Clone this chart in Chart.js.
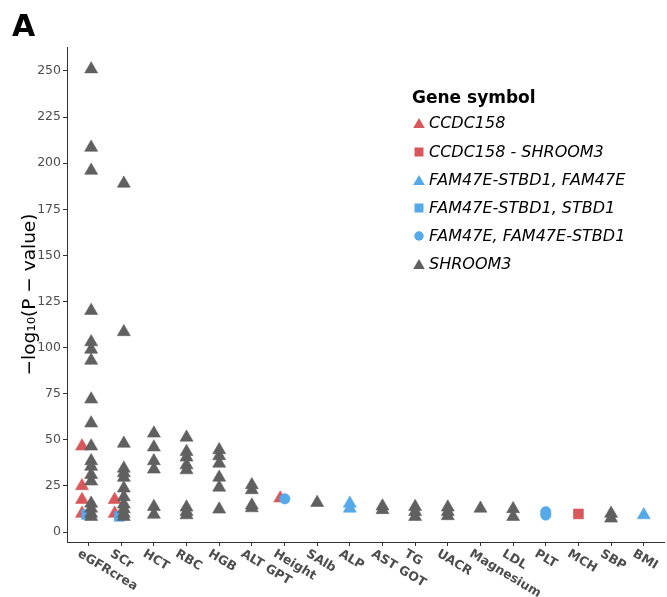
<!DOCTYPE html>
<html>
<head>
<meta charset="utf-8">
<script src="https://cdn.jsdelivr.net/npm/chart.js@4.4.1/dist/chart.umd.min.js"></script>
<style>
html,body{margin:0;padding:0;background:#fff;}
#wrap{position:relative;width:667px;height:597px;font-family:'DejaVu Sans',sans-serif;overflow:hidden;}
#c{position:absolute;left:0;top:0;}
#panel{position:absolute;left:12px;top:8px;font-weight:bold;font-size:30px;color:#000;line-height:36px;}
#legend{position:absolute;left:412px;top:85px;width:250px;height:200px;}
#legend .lt{position:absolute;left:0;top:0;font-weight:bold;font-size:17px;color:#000;line-height:24px;white-space:nowrap;}
#legend .li{position:absolute;left:0;height:20px;line-height:20px;font-style:italic;font-size:16px;color:#000;white-space:nowrap;}
#legend .li svg{position:absolute;left:0;top:3px;}
#legend .li span{position:absolute;left:17px;top:0;}
</style>
</head>
<body>
<div id="wrap">
<canvas id="c" width="667" height="597"></canvas>
<div id="panel">A</div>
<div id="legend"></div>
</div>
<script>
// ---------- data ----------
const categories = ['eGFRcrea','SCr','HCT','RBC','HGB','ALT GPT','Height','SAlb','ALP','AST GOT','TG','UACR','Magnesium','LDL','PLT','MCH','SBP','BMI'];
const yTicks = [0,25,50,75,100,125,150,175,200,225,250];

const seriesNames = ['CCDC158','CCDC158 - SHROOM3','FAM47E-STBD1, FAM47E','FAM47E-STBD1, STBD1','FAM47E, FAM47E-STBD1','SHROOM3'];

const ccdc158Cats = ['eGFRcrea','eGFRcrea','eGFRcrea','eGFRcrea','SCr','SCr','Height'];
const ccdc158Vals = [46.5, 25, 17.5, 10, 17.5, 10, 18.3];

const ccdc158Shroom3Cats = ['MCH'];
const ccdc158Shroom3Vals = [9.8];

const fam47eStbd1Fam47eCats = ['ALP','ALP','BMI'];
const fam47eStbd1Fam47eVals = [15.5, 12.8, 9.2];

const fam47eStbd1Stbd1Cats = ['eGFRcrea','SCr'];
const fam47eStbd1Stbd1Vals = [9.5, 8.5];

const fam47eFam47eStbd1Cats = ['Height','PLT','PLT'];
const fam47eFam47eStbd1Vals = [18, 11, 9.2];

const shroom3Cats = [
  'eGFRcrea','eGFRcrea','eGFRcrea','eGFRcrea','eGFRcrea','eGFRcrea','eGFRcrea','eGFRcrea','eGFRcrea',
  'eGFRcrea','eGFRcrea','eGFRcrea','eGFRcrea','eGFRcrea','eGFRcrea','eGFRcrea','eGFRcrea','eGFRcrea',
  'SCr','SCr','SCr','SCr','SCr','SCr','SCr','SCr','SCr','SCr','SCr','SCr',
  'HCT','HCT','HCT','HCT','HCT','HCT',
  'RBC','RBC','RBC','RBC','RBC','RBC','RBC','RBC',
  'HGB','HGB','HGB','HGB','HGB','HGB',
  'ALT GPT','ALT GPT','ALT GPT','ALT GPT',
  'SAlb',
  'AST GOT','AST GOT',
  'TG','TG','TG',
  'UACR','UACR','UACR',
  'Magnesium',
  'LDL','LDL',
  'SBP','SBP'
];
const shroom3Vals = [
  251, 208.5, 196, 120, 103, 99, 93, 72, 59,
  46.5, 38.5, 35.5, 31, 27.5, 15.5, 12.8, 10, 8.3,
  189, 108.5, 48, 34.5, 32, 29.5, 23.7, 19, 15, 12.5, 10, 8.3,
  53.5, 46, 38.5, 34, 13.7, 9.5,
  51.3, 43.5, 40.5, 36.3, 33.6, 13.4, 11, 9.2,
  44.5, 41.2, 37.2, 29.6, 24.2, 12.3,
  25.5, 22.8, 14.5, 13,
  15.9,
  14, 12,
  13.7, 11, 8.3,
  13.4, 11, 8.7,
  12.8,
  12.5, 8.3,
  10, 7.4
];

// ---------- styles ----------
const RED = '#D9585C', BLUE = '#56A9E9', GREY = '#606060';
const seriesStyle = [
  {color: RED,  shape: 'triangle'},
  {color: RED,  shape: 'rect'},
  {color: BLUE, shape: 'triangle'},
  {color: BLUE, shape: 'rect'},
  {color: BLUE, shape: 'circle'},
  {color: GREY, shape: 'triangle'}
];
const seriesCats = [ccdc158Cats, ccdc158Shroom3Cats, fam47eStbd1Fam47eCats, fam47eStbd1Stbd1Cats, fam47eFam47eStbd1Cats, shroom3Cats];
const seriesVals = [ccdc158Vals, ccdc158Shroom3Vals, fam47eStbd1Fam47eVals, fam47eStbd1Stbd1Vals, fam47eFam47eStbd1Vals, shroom3Vals];

// dodge groups that share a category
const present = categories.map(c => seriesCats.map((cs, s) => cs.includes(c) ? s : -1).filter(s => s >= 0));
function dodge(catIdx, s) {
  const g = present[catIdx];
  const n = g.length;
  if (n <= 1) return 0;
  const i = g.indexOf(s);
  return -0.06 + (i - (n - 1) / 2) * 0.14;
}

const datasets = seriesNames.map((name, s) => {
  const st = seriesStyle[s];
  const radius = st.shape === 'triangle' ? 7.5 : (st.shape === 'rect' ? 7 : 5.2);
  return {
    label: name,
    data: seriesCats[s].map((c, k) => {
      const ci = categories.indexOf(c);
      return {x: ci + dodge(ci, s), y: seriesVals[s][k]};
    }),
    pointStyle: st.shape,
    pointRadius: radius,
    pointHoverRadius: radius,
    backgroundColor: st.color,
    borderColor: st.color,
    borderWidth: 0.6,
    order: seriesNames.length - s
  };
});

const xLabelPlugin = {
  id: 'xLabels',
  afterDraw(chart) {
    const ctx = chart.ctx;
    const xs = chart.scales.x;
    ctx.save();
    ctx.font = 'bold 12.5px "DejaVu Sans"';
    ctx.fillStyle = '#4D4D4D';
    ctx.textAlign = 'left';
    ctx.textBaseline = 'middle';
    categories.forEach((c, i) => {
      const px = xs.getPixelForValue(i);
      ctx.save();
      ctx.translate(px - 10, 553);
      ctx.rotate(31 * Math.PI / 180);
      ctx.fillText(c, 0, 0);
      ctx.restore();
    });
    ctx.restore();
  }
};

new Chart(document.getElementById('c'), {
  type: 'scatter',
  data: {datasets},
  plugins: [xLabelPlugin],
  options: {
    responsive: false,
    animation: false,
    events: [],
    layout: {autoPadding: false, padding: {left: 0, right: 3, top: 47, bottom: 0}},
    plugins: {legend: {display: false}, tooltip: {enabled: false}},
    scales: {
      x: {
        type: 'linear',
        min: -0.66, max: 17.62,
        afterBuildTicks(scale) { scale.ticks = categories.map((c, i) => ({value: i})); },
        afterFit(scale) { scale.height = 55; },
        ticks: {display: false, stepSize: 1, includeBounds: false},
        grid: {drawOnChartArea: false, drawTicks: true, tickLength: 4, color: '#333333', lineWidth: 1},
        border: {display: true, color: '#333333', width: 1}
      },
      y: {
        type: 'linear',
        min: -5.42, max: 263,
        afterBuildTicks(scale) { scale.ticks = yTicks.map(v => ({value: v})); },
        afterFit(scale) { scale.width = 67; },
        ticks: {
          includeBounds: false, stepSize: 25, padding: 2,
          color: '#4D4D4D',
          font: {family: 'DejaVu Sans', size: 12.5}
        },
        grid: {drawOnChartArea: false, drawTicks: true, tickLength: 4, color: '#333333', lineWidth: 1},
        border: {display: true, color: '#333333', width: 1},
        title: {
          display: true,
          text: '\u2212log\u2081\u2080(P \u2212 value)',
          color: '#000',
          font: {family: 'DejaVu Sans', size: 18.5},
          padding: {top: 19, bottom: 0}
        }
      }
    }
  }
});

// ---------- legend (HTML text) ----------
const legend = document.getElementById('legend');
const lt = document.createElement('div');
lt.className = 'lt';
lt.textContent = 'Gene symbol';
legend.appendChild(lt);
const itemCenters = [38.3, 66.5, 94.7, 122.9, 151, 179.2];
function symbolSvg(st) {
  let inner = '';
  if (st.shape === 'triangle') inner = `<polygon points="1.2,12 12.8,12 7,2" fill="${st.color}"/>`;
  else if (st.shape === 'rect') inner = `<rect x="2.5" y="2.5" width="9" height="9" fill="${st.color}"/>`;
  else inner = `<circle cx="7" cy="7" r="4.7" fill="${st.color}"/>`;
  return `<svg width="14" height="14" viewBox="0 0 14 14">${inner}</svg>`;
}
seriesNames.forEach((name, s) => {
  const d = document.createElement('div');
  d.className = 'li';
  d.style.top = (itemCenters[s] - 10) + 'px';
  d.innerHTML = symbolSvg(seriesStyle[s]) + '<span></span>';
  d.querySelector('span').textContent = name;
  legend.appendChild(d);
});
</script>
</body>
</html>
